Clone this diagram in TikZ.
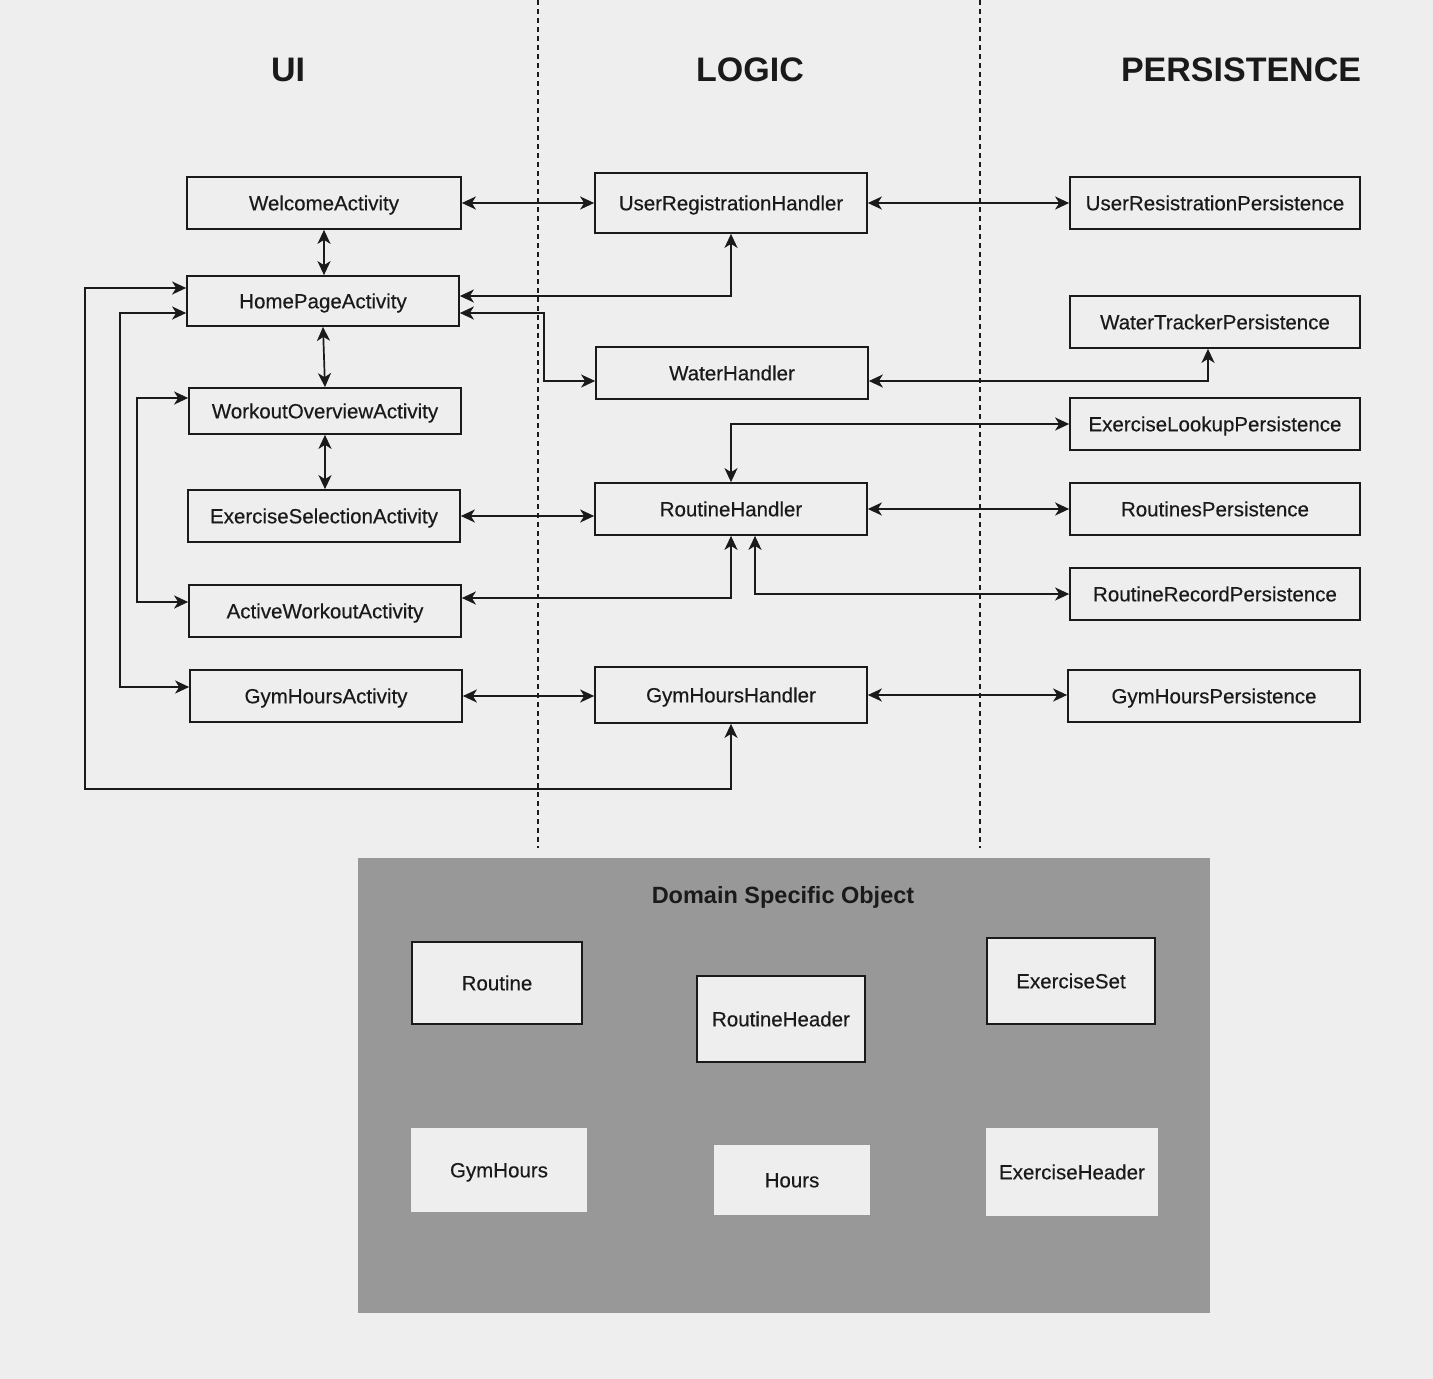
\documentclass[tikz,border=0pt]{standalone}
\usepackage{fontspec}
\setmainfont{Liberation Sans}
\newfontfamily\boxfont{Liberation Sans}[FakeBold=0.35]
\usetikzlibrary{arrows.meta}
\definecolor{bgc}{HTML}{EEEEEE}
\definecolor{dsgrey}{HTML}{979897}
\definecolor{ink}{HTML}{1A1A1A}
\newcommand\mybox[7][box]{\node[#1, minimum width=#5pt, minimum height=#6pt] (#2) at (#3,#4) {#7};}
\begin{document}
\begin{tikzpicture}[x=1pt,y=-1pt,
  >={Stealth[length=14pt,width=13pt,inset=4pt]},
  box/.style={draw=ink, line width=1.7pt, fill=bgc, inner sep=0pt, text=ink, text height=14.6pt, text depth=0pt, font=\boxfont\fontsize{20.5}{24}\selectfont},
  plainbox/.style={box, draw=none},
  title/.style={inner sep=0pt, text=ink, font=\fontsize{34}{40}\selectfont\bfseries},
  dstitle/.style={inner sep=0pt, text=ink, font=\fontsize{23.5}{28}\selectfont\bfseries},
  bi/.style={draw=ink, line width=1.7pt, <->},
  divider/.style={draw=ink, line width=1.3pt, dash pattern=on 5pt off 4pt}]
% background
\fill[bgc] (0,0) rectangle (1433,1379);
\useasboundingbox (0,0) rectangle (1433,1379);
% dividers
\draw[divider] (538,0) -- (538,848);
\draw[divider] (980,0) -- (980,848);
% titles
\node[title] (tui) at (288,70) {UI};
\node[title] (tlogic) at (750,70) {LOGIC};
\node[title] (tpers) at (1241,70) {PERSISTENCE};
% UI column
\mybox{welcome}{324}{203}{274}{52}{WelcomeActivity}
\mybox{home}{323}{301}{272}{50}{HomePageActivity}
\mybox{workout}{325}{411}{272}{46}{WorkoutOverviewActivity}
\mybox{exsel}{324}{516}{272}{52}{ExerciseSelectionActivity}
\mybox{active}{325}{611}{272}{52}{ActiveWorkoutActivity}
\mybox{gymact}{326}{696}{272}{52}{GymHoursActivity}
% Logic column
\mybox{urh}{731}{203}{272}{60}{UserRegistrationHandler}
\mybox{water}{732}{373}{272}{52}{WaterHandler}
\mybox{routine}{731}{509}{272}{52}{RoutineHandler}
\mybox{gymh}{731}{695}{272}{56}{GymHoursHandler}
% Persistence column
\mybox{urp}{1215}{203}{290}{52}{UserResistrationPersistence}
\mybox{wtp}{1215}{322}{290}{52}{WaterTrackerPersistence}
\mybox{elp}{1215}{424}{290}{52}{ExerciseLookupPersistence}
\mybox{rp}{1215}{509}{290}{52}{RoutinesPersistence}
\mybox{rrp}{1215}{594}{290}{52}{RoutineRecordPersistence}
\mybox{ghp}{1214}{696}{292}{52}{GymHoursPersistence}
% bend points
\coordinate (bw) at (544,381);
\coordinate (bl1) at (85,789);
\coordinate (bl2) at (120,687);
\coordinate (bl3) at (137,602);
% connectors
\draw[bi] (welcome.east) -- (urh.west);
\draw[bi] (urh.east) -- (urp.west);
\draw[bi] (welcome.south) -- (welcome.south |- home.north);
\draw[bi] (home.south) -- (workout.north);
\draw[bi] (workout.south) -- (workout.south |- exsel.north);
\draw[bi] ([yshift=5pt]home.east) -| (urh.south);
\draw[bi] ([yshift=-12pt]home.east) -| (bw) -- ([yshift=-8pt]water.west);
\draw[bi] ([yshift=-8pt]water.east) -| ([xshift=-7pt]wtp.south);
\draw[bi] (routine.north) |- (elp.west);
\draw[bi] (exsel.east) -- (exsel.east -| routine.west);
\draw[bi] (routine.east) -- (rp.west);
\draw[bi] ([yshift=13pt]active.east) -| (routine.south);
\draw[bi] ([xshift=24pt]routine.south) |- (rrp.west);
\draw[bi] (gymact.east) -- (gymact.east -| gymh.west);
\draw[bi] (gymh.east) -- (gymh.east -| ghp.west);
\draw[bi] ([yshift=13pt]home.west) -| (bl1) -| (gymh.south);
\draw[bi] ([yshift=-12pt]home.west) -| (bl2) -- ([yshift=9pt]gymact.west);
\draw[bi] ([yshift=13pt]workout.west) -| (bl3) -- ([yshift=9pt]active.west);
% Domain specific objects
\fill[dsgrey] (358,858) rectangle (1210,1313);
\node[dstitle] (dst) at (783,897) {Domain Specific Object};
\mybox{droutine}{497}{983}{170}{82}{Routine}
\mybox{drheader}{781}{1019}{168}{86}{RoutineHeader}
\mybox{dexset}{1071}{981}{168}{86}{ExerciseSet}
\mybox[plainbox]{dgym}{499}{1170}{176}{84}{GymHours}
\mybox[plainbox]{dhours}{792}{1180}{156}{70}{Hours}
\mybox[plainbox]{dexheader}{1072}{1172}{172}{88}{ExerciseHeader}
\end{tikzpicture}
\end{document}
